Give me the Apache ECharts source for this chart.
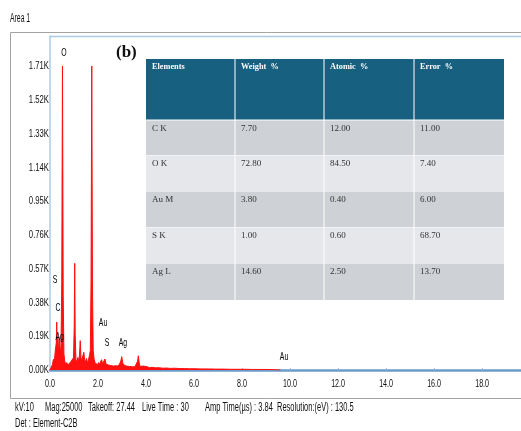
<!DOCTYPE html>
<html>
<head>
<meta charset="utf-8">
<script src="https://cdn.jsdelivr.net/npm/echarts@6/dist/echarts.min.js"></script>
<style>
html,body{margin:0;padding:0;background:#fff;}
#chart{width:521px;height:431px;}
</style>
</head>
<body>
<div id="chart"></div>
<script>
// ---- spectrum (energy keV, counts) ----
const energies = [0.00,0.06,0.10,0.14,0.18,0.22,0.26,0.28,0.30,0.33,0.36,0.40,0.43,0.46,0.49,0.52,0.55,0.58,0.62,0.66,
  0.70,0.74,0.78,0.82,0.86,0.90,0.94,0.98,1.01,1.03,1.05,1.08,1.12,1.16,1.20,1.23,1.26,1.29,1.33,1.37,
  1.41,1.44,1.48,1.52,1.56,1.60,1.64,1.68,1.71,1.74,1.77,1.80,1.84,1.88,1.93,1.98,2.02,2.06,2.10,2.15,
  2.19,2.24,2.29,2.33,2.38,2.43,2.48,2.53,2.58,2.63,2.68,2.73,2.78,2.84,2.90,2.95,2.99,3.03,3.08,3.13,
  3.18,3.24,3.30,3.36,3.42,3.48,3.54,3.60,3.65,3.68,3.71,3.75,3.82,3.90,3.98,4.05,4.15,4.25,4.40,4.55,
  4.70,4.85,5.00,5.20,5.40,5.60,5.80,6.00,6.30,6.60,6.90,7.20,7.50,7.80,8.10,8.40,8.70,9.00,9.30,9.60];
const counts = [0,5,30,60,45,110,150,270,120,190,100,175,90,140,500,1710,420,90,45,30,
  42,28,38,30,45,35,50,70,250,600,200,60,45,70,50,90,165,70,55,80,
  100,60,45,65,40,55,80,110,500,1710,450,110,60,40,45,30,42,30,45,58,
  35,40,62,35,45,28,38,25,30,22,32,24,28,22,35,50,75,40,28,38,
  22,26,20,30,18,22,18,25,50,80,45,20,18,22,15,18,13,15,12,13,
  10,11,9,10,8,8,7,7,6,6,5,5,4,4,4,3,3,3,2,0];

// ---- peak annotations ----
const peakNames = ['O','S','C','Ag','Au','S','Ag','Au'];
const peakLabelX = [0.58,0.21,0.33,0.40,2.21,2.375,3.04,9.75];
const peakLabelY = [1785,506,349,186,264,152,152,73];

// ---- axes ----
const yTickValues = [0,190,380,570,760,950,1140,1330,1520,1710];
const yTickLabels = ['0.00K','0.19K','0.38K','0.57K','0.76K','0.95K','1.14K','1.33K','1.52K','1.71K'];
const xTickValues = [0,2,4,6,8,10,12,14,16,18];
const xTickLabels = ['0.0','2.0','4.0','6.0','8.0','10.0','12.0','14.0','16.0','18.0'];

// ---- quantification table ----
const tableHeader = ['Elements','Weight  %','Atomic  %','Error  %'];
const tableElements = ['C K','O K','Au M','S K','Ag L'];
const weightPct = ['7.70','72.80','3.80','1.00','14.60'];
const atomicPct = ['12.00','84.50','0.40','0.60','2.50'];
const errorPct = ['11.00','7.40','6.00','68.70','13.70'];

// ---- footer info ----
const footerItems = ['kV:10','Mag:25000','Takeoff: 27.44','Live Time : 30','Amp Time(\u00b5s) : 3.84','Resolution:(eV) : 130.5'];
const footerX = [15,45,88,142,205,277];

const SANS = "'Liberation Sans',Arial,sans-serif";
const SERIF = "'Liberation Serif','DejaVu Serif',serif";

const spectrum = energies.map((e, i) => [e, counts[i]]);

const chart = echarts.init(document.getElementById('chart'), null, { renderer: 'canvas' });
chart.setOption({
  animation: false,
  backgroundColor: '#fff',
  grid: { left: 50, top: 36, right: 0, bottom: 61, containLabel: false, outerBoundsMode: 'none' },
  xAxis: {
    type: 'value', min: 0, max: 19.62, interval: 2,
    axisLine: { show: true, lineStyle: { color: '#6b9cca', width: 2.5 } },
    axisTick: { show: true, inside: true, length: 2, lineStyle: { color: '#9dbedf' } },
    splitLine: { show: false },
    axisLabel: { show: false }
  },
  yAxis: {
    type: 'value', min: 0, max: 1879, interval: 190,
    axisLine: { show: true, lineStyle: { color: '#a9cbe8', width: 1.5 } },
    axisTick: { show: false },
    splitLine: { show: false },
    axisLabel: { show: false }
  },
  series: [
    {
      type: 'line', data: spectrum, showSymbol: false, symbol: 'none', smooth: false,
      lineStyle: { color: '#ff1010', width: 1 },
      areaStyle: { color: '#ff1010', opacity: 1 },
      clip: true, z: 2
    }
  ]
});

// ---- graphics: frame, texts, table, condensed labels placed through the chart's scales ----
const colX = [146, 235, 324, 414, 504];
const rowY = [120, 155, 191, 227, 263, 300];
const headTop = 59, headBottom = 119.5;
const g = [];
const sq = (x, y, text, size, align, scale, fill) => ({
  type: 'text', x: x, y: y, scaleX: scale, scaleY: 1,
  style: { text: text, font: size + 'px ' + SANS, fill: fill || '#111', align: align || 'left', verticalAlign: 'middle' }, z: 20
});

g.push({ type: 'rect', shape: { x: 10.5, y: 32.5, width: 540, height: 366 }, style: { fill: 'none', stroke: '#a3a3a3', lineWidth: 1 }, z: 1 });
g.push({ type: 'line', shape: { x1: 50, y1: 36.5, x2: 521, y2: 36.5 }, style: { stroke: '#a9cbe8', lineWidth: 1.5 }, z: 1 });
g.push(sq(10, 19, 'Area 1', 12, 'left', 0.57));
footerItems.forEach((t, i) => g.push(sq(footerX[i], 408, t, 12.5, 'left', 0.6)));
g.push(sq(15, 424, 'Det : Element-C2B', 12.5, 'left', 0.6));

// axis tick labels
yTickValues.forEach((v, i) => {
  const p = chart.convertToPixel({ gridIndex: 0 }, [0, v]);
  g.push(sq(49, p[1], yTickLabels[i], 11.5, 'right', 0.67));
});
xTickValues.forEach((v, i) => {
  const p = chart.convertToPixel({ gridIndex: 0 }, [v, 0]);
  g.push(sq(p[0], 384, xTickLabels[i], 11.5, 'center', 0.62));
});
// peak labels
peakNames.forEach((n, i) => {
  const p = chart.convertToPixel({ gridIndex: 0 }, [peakLabelX[i], peakLabelY[i]]);
  g.push(sq(p[0], p[1], n, 11.5, 'center', 0.6, '#000'));
});

// inset (b) + table
g.push({ type: 'text', x: 116, y: 53, style: { text: '(b)', font: 'bold 17px ' + SERIF, fill: '#111', verticalAlign: 'middle' }, z: 10 });
g.push({ type: 'rect', shape: { x: colX[0], y: headTop, width: colX[4] - colX[0], height: headBottom - headTop }, style: { fill: '#17607f' }, z: 10 });
tableElements.forEach((el, r) => {
  g.push({ type: 'rect', shape: { x: colX[0], y: rowY[r] + 0.5, width: colX[4] - colX[0], height: rowY[r + 1] - rowY[r] - 0.5 }, style: { fill: r % 2 === 0 ? '#ced1d5' : '#e5e7ea' }, z: 10 });
});
for (let c = 1; c < 4; c++) {
  g.push({ type: 'line', shape: { x1: colX[c], y1: headTop, x2: colX[c], y2: rowY[5] }, style: { stroke: 'rgba(255,255,255,0.85)', lineWidth: 1.2 }, z: 11 });
}
tableHeader.forEach((h, c) => g.push({ type: 'text', x: colX[c] + 6, y: 67, scaleX: 0.92, style: { text: h, font: 'bold 9px ' + SERIF, fill: '#fff', verticalAlign: 'middle' }, z: 12 }));
const cols = [tableElements, weightPct, atomicPct, errorPct];
cols.forEach((col, c) => col.forEach((v, r) => g.push({ type: 'text', x: colX[c] + 6, y: rowY[r] + 9, style: { text: v, font: '9px ' + SERIF, fill: '#333', verticalAlign: 'middle' }, z: 12 })));

chart.setOption({ graphic: g });
</script>
</body>
</html>
